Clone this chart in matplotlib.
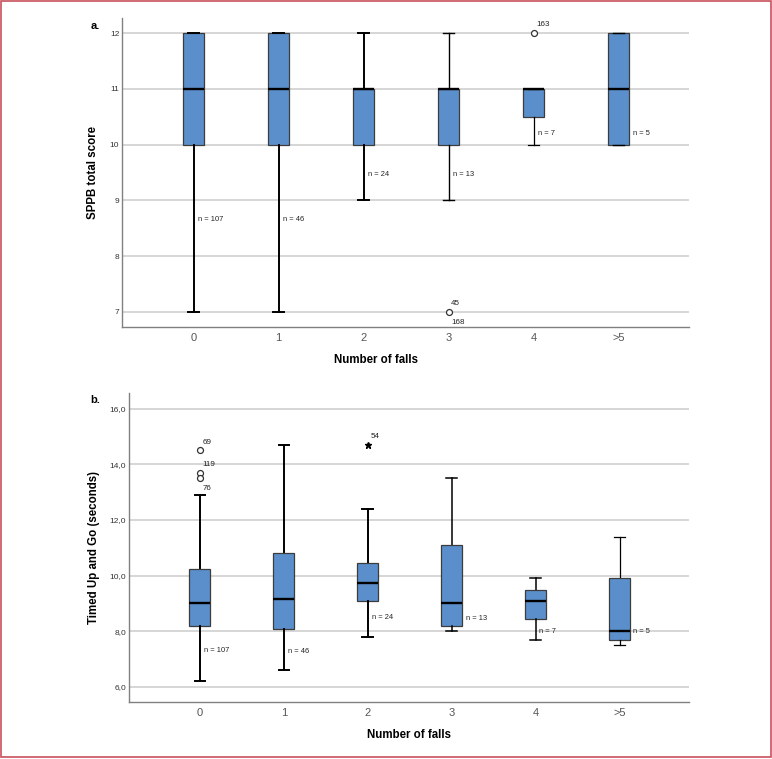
import matplotlib
matplotlib.use('Agg')
import matplotlib.pyplot as plt
from matplotlib.patches import Rectangle
from matplotlib.ticker import FuncFormatter, MultipleLocator

plt.rcParams['font.family'] = ['Liberation Sans', 'DejaVu Sans']

# ---------------- data ----------------
categories = ['0', '1', '2', '3', '4', '>5']
n_counts = [107, 46, 24, 13, 7, 5]

# Panel a: SPPB total score
sppb_whislo = [7, 7, 9, 9, 10, 10]
sppb_q1 = [10, 10, 10, 10, 10.5, 10]
sppb_med = [11, 11, 11, 11, 11, 11]
sppb_q3 = [12, 12, 11, 11, 11, 12]
sppb_whishi = [12, 12, 12, 12, 11, 12]
sppb_out_cat = [3, 3, 4]
sppb_out_val = [7, 7, 12]
sppb_out_id = ['45', '168', '163']
sppb_n_label_y = [8.65, 8.65, 9.47, 9.47, 10.2, 10.2]

# Panel b: Timed Up and Go (seconds)
tug_whislo = [6.2, 6.6, 7.8, 8.0, 7.7, 7.5]
tug_q1 = [8.2, 8.1, 9.1, 8.2, 8.45, 7.7]
tug_med = [9.0, 9.15, 9.75, 9.0, 9.1, 8.0]
tug_q3 = [10.25, 10.8, 10.45, 11.1, 9.5, 9.9]
tug_whishi = [12.9, 14.7, 12.4, 13.5, 9.9, 11.4]
tug_out_cat = [0, 0, 0]
tug_out_val = [14.5, 13.7, 13.5]
tug_out_id = ['69', '119', '76']
tug_ext_cat = [2]
tug_ext_val = [14.7]
tug_ext_id = ['54']
tug_n_label_y = [7.3, 7.26, 8.5, 8.47, 8.0, 8.0]

# ---------------- style ----------------
BOX_FC = '#5b8fcb'
BOX_EC = '#3c3c3c'
GRID_C = '#d3d3d3'
SPINE_C = '#808080'

fig = plt.figure(figsize=(7.72, 7.59), dpi=100)
W, H = 772.0, 759.0


def px_axes(left, top, right, bottom):
    return fig.add_axes([left / W, 1 - bottom / H, (right - left) / W, (bottom - top) / H])


def draw_panel(ax, whislo, q1, med, q3, whishi, n_label_y, whisker_lw):
    stats = []
    for i in range(len(categories)):
        stats.append(dict(whislo=whislo[i], q1=q1[i], med=med[i], q3=q3[i],
                          whishi=whishi[i], fliers=[]))
    art = ax.bxp(stats, positions=list(range(len(categories))), widths=0.25,
                 patch_artist=True, showfliers=False, capwidths=0.125,
                 boxprops=dict(facecolor=BOX_FC, edgecolor=BOX_EC, linewidth=0.9),
                 medianprops=dict(color='black', linewidth=1.7),
                 whiskerprops=dict(color='black', linewidth=1.2),
                 capprops=dict(color='black', linewidth=1.2))
    for i in range(len(categories)):
        for k in (0, 1):
            art['whiskers'][2 * i + k].set_linewidth(whisker_lw[i])
            art['caps'][2 * i + k].set_linewidth(whisker_lw[i])
        art['whiskers'][2 * i + k].set_zorder(1.5)
    for b in art['boxes']:
        b.set_zorder(2)
    for m in art['medians']:
        m.set_zorder(3)
    # n labels
    for i, n in enumerate(n_counts):
        y = n_label_y[i]
        dx = 0.165 if q1[i] <= y <= q3[i] else 0.045
        ax.text(i + dx, y, f'n = {n}', fontsize=5.4, ha='left', va='center', color='#222222')

    ax.set_xlim(-0.84, 5.83)
    ax.set_xticks(range(len(categories)))
    ax.set_xticklabels(categories)
    ax.tick_params(axis='x', length=0, labelsize=8, labelcolor='#555555', pad=4.5)
    ax.tick_params(axis='y', length=0, labelsize=6, labelcolor='#333333', pad=2.2)
    ax.spines['top'].set_visible(False)
    ax.spines['right'].set_visible(False)
    for s in ('left', 'bottom'):
        ax.spines[s].set_color(SPINE_C)
        ax.spines[s].set_linewidth(1.0)
    ax.set_axisbelow(True)
    ax.yaxis.grid(True, color=GRID_C, linewidth=1.3)
    ax.xaxis.grid(False)


def label_outliers(ax, cats, vals, ids, marker_style):
    order = sorted(range(len(vals)), key=lambda k: -vals[k])
    placed = {}
    for k in order:
        c, v = cats[k], vals[k]
        # nearby points in same category cluster
        cluster = [j for j in range(len(vals)) if cats[j] == c and abs(vals[j] - v) <= 0.25]
        cluster.sort(key=lambda j: (-vals[j], j))
        below = len(cluster) > 1 and cluster.index(k) == len(cluster) - 1
        dy = -7.5 if below else 6.0
        ax.annotate(ids[k], (c, v), xytext=(1.8, dy), textcoords='offset points',
                    fontsize=5.8, ha='left', va='center', color='#222222', zorder=5)
        if (c, v) not in placed:
            placed[(c, v)] = True
            if marker_style == 'o':
                ax.plot(c, v, 'o', ms=4.3, mfc='white', mec='#333333', mew=0.9, zorder=4)
            else:
                ax.plot(c, v, '*', ms=5, color='black', zorder=4)


# ---------------- panel a ----------------
ax1 = px_axes(122.3, 18, 689.3, 327)
draw_panel(ax1, sppb_whislo, sppb_q1, sppb_med, sppb_q3, sppb_whishi, sppb_n_label_y,
           [1.4, 1.4, 1.4, 1.0, 0.9, 1.0])
ax1.set_ylim(6.73, 12.27)
ax1.yaxis.set_major_locator(MultipleLocator(1))
ax1.yaxis.set_major_formatter(FuncFormatter(lambda v, p: f'{v:.0f}'))
label_outliers(ax1, sppb_out_cat, sppb_out_val, sppb_out_id, 'o')
ax1.set_ylabel('SPPB total score', fontsize=8.3, fontweight='bold')
ax1.yaxis.set_label_coords(-0.041, 0.5)
ax1.set_xlabel('Number of falls', fontsize=8.3, fontweight='bold')
ax1.xaxis.set_label_coords(0.447, -0.086)

# ---------------- panel b ----------------
ax2 = px_axes(129.3, 393, 689.3, 702)
draw_panel(ax2, tug_whislo, tug_q1, tug_med, tug_q3, tug_whishi, tug_n_label_y,
           [1.4, 1.4, 1.4, 1.1, 1.1, 0.9])
ax2.set_ylim(5.46, 16.56)
ax2.yaxis.set_major_locator(MultipleLocator(2))
ax2.yaxis.set_major_formatter(FuncFormatter(lambda v, p: f'{v:.1f}'.replace('.', ',')))
label_outliers(ax2, tug_out_cat, tug_out_val, tug_out_id, 'o')
label_outliers(ax2, tug_ext_cat, tug_ext_val, tug_ext_id, '*')
ax2.set_ylabel('Timed Up and Go (seconds)', fontsize=8.3, fontweight='bold')
ax2.yaxis.set_label_coords(-0.053, 0.5)
ax2.set_xlabel('Number of falls', fontsize=8.3, fontweight='bold')
ax2.xaxis.set_label_coords(0.5, -0.086)

# panel letters
fig.text(95 / W, 1 - 26 / H, 'a.', fontsize=8, fontweight='bold', ha='center', va='center')
fig.text(95 / W, 1 - 400 / H, 'b.', fontsize=8, fontweight='bold', ha='center', va='center')

# outer frame
fig.patches.append(Rectangle((1 / W, 2 / H), 769.7 / W, 756 / H, transform=fig.transFigure,
                             fill=False, edgecolor='#c8505c', linewidth=1.2))

fig.savefig('out.png', dpi=100)
